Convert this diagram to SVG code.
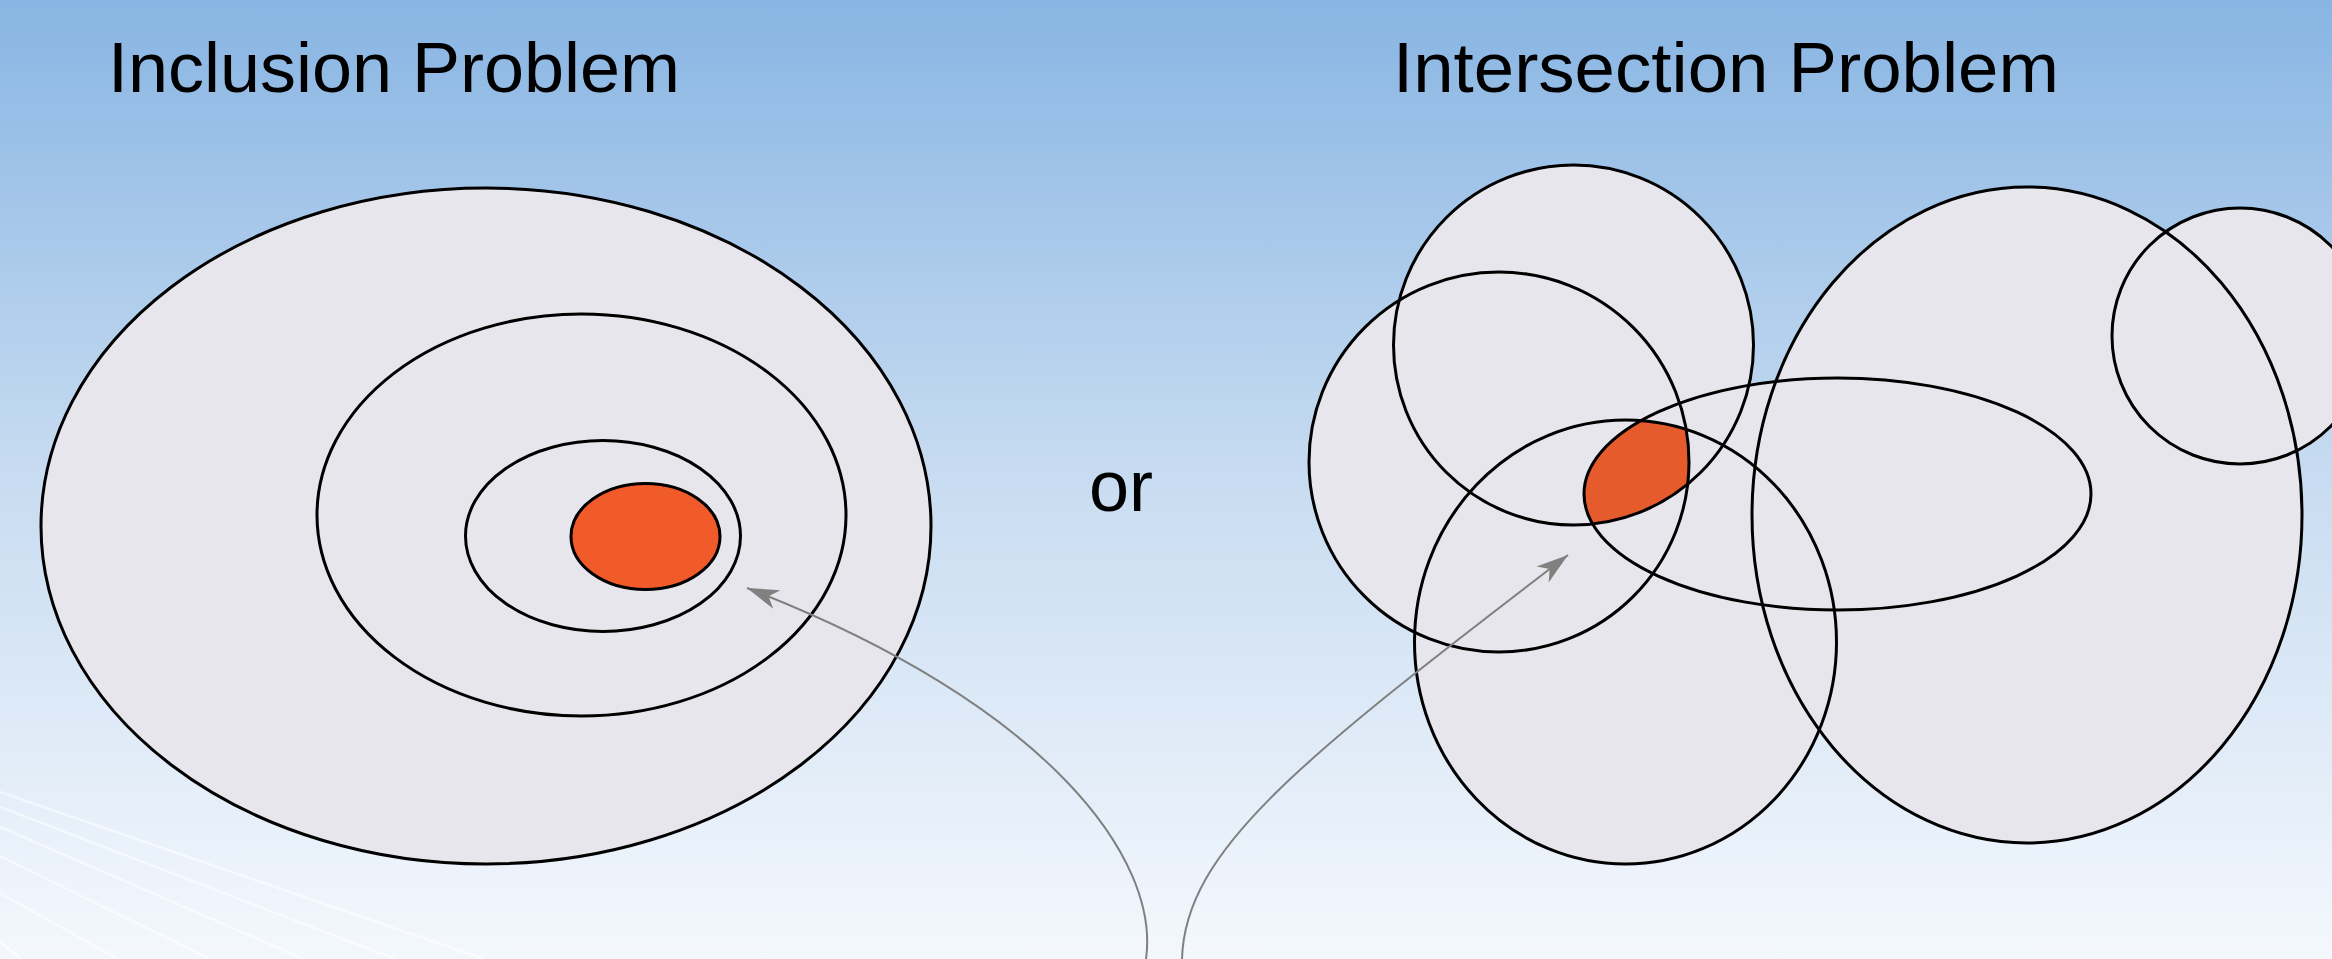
<svg xmlns="http://www.w3.org/2000/svg" xmlns:xlink="http://www.w3.org/1999/xlink" width="2332" height="959" viewBox="0 0 2332 959">
<style>
.title{font-family:"Liberation Sans",Arial,sans-serif;font-size:70px;fill:#000}
.or{font-family:"Liberation Sans",Arial,sans-serif;font-size:72px;fill:#000}
.set{fill:#E6E6EC;stroke:#000;stroke-width:3}
.fillonly{fill:#E6E6EC;stroke:none}
.outline{fill:none;stroke:#000;stroke-width:3}
.hit{fill:#F15A29;stroke:#000;stroke-width:3}
.hit2{fill:#E55B2B;stroke:none}
.conn{fill:none;stroke:#808080;stroke-width:2}
.deco{stroke:#FFFFFF;stroke-opacity:0.55;stroke-width:2.5}
</style>
<defs>
<linearGradient id="bg" x1="0" y1="0" x2="0" y2="1">
<stop offset="0" stop-color="#88B5E3"/>
<stop offset="0.5" stop-color="#C8DCF1"/>
<stop offset="1" stop-color="#F4F8FD"/>
</linearGradient>
<marker id="arr" viewBox="0 0 32 22" refX="32" refY="11" markerWidth="32" markerHeight="22" markerUnits="userSpaceOnUse" orient="auto">
<path d="M0,1 L32,11 L0,21 L9,11 Z" fill="#808080"/>
</marker>
<ellipse id="eA" cx="1573.5" cy="345" rx="180" ry="180"/>
<ellipse id="eB" cx="1499" cy="462" rx="190" ry="190"/>
<ellipse id="eC" cx="1625.5" cy="642" rx="211" ry="222"/>
<ellipse id="eD" cx="1837.5" cy="494" rx="253.5" ry="116"/>
<ellipse id="eE" cx="2027" cy="515" rx="275" ry="328"/>
<ellipse id="eF" cx="2240" cy="336" rx="128" ry="128"/>
<clipPath id="cA"><use xlink:href="#eA"/></clipPath>
<clipPath id="cB"><use xlink:href="#eB"/></clipPath>
<clipPath id="cC"><use xlink:href="#eC"/></clipPath>
</defs>
<rect x="0" y="0" width="2332" height="959" fill="url(#bg)"/>
<g id="decoration">
<line class="deco" x1="0" y1="792" x2="484" y2="959"/>
<line class="deco" x1="0" y1="807" x2="395" y2="959"/>
<line class="deco" x1="0" y1="827" x2="304" y2="959"/>
<line class="deco" x1="0" y1="856" x2="210" y2="959"/>
<line class="deco" x1="0" y1="893" x2="118" y2="959"/>
<line class="deco" x1="0" y1="942" x2="22" y2="959"/>
</g>
<text class="title" x="108" y="92" textLength="572" lengthAdjust="spacingAndGlyphs">Inclusion Problem</text>
<text class="title" x="1393" y="92" textLength="666" lengthAdjust="spacingAndGlyphs">Intersection Problem</text>
<text class="or" x="1089" y="511">or</text>
<g id="inclusion">
<g id="inc-outer"><ellipse class="set" cx="486" cy="526" rx="445" ry="338"/></g>
<g id="inc-second"><ellipse class="set" cx="581.5" cy="515" rx="264.5" ry="201"/></g>
<g id="inc-third"><ellipse class="set" cx="603" cy="536" rx="137.5" ry="95.5"/></g>
<g id="inc-target"><ellipse class="hit" cx="645.5" cy="536.5" rx="74.5" ry="53"/></g>
</g>
<g id="intersection">
<g id="set-A"><use xlink:href="#eA" class="fillonly"/></g>
<g id="set-B"><use xlink:href="#eB" class="fillonly"/></g>
<g id="set-C"><use xlink:href="#eC" class="fillonly"/></g>
<g id="set-D"><use xlink:href="#eD" class="fillonly"/></g>
<g id="set-E"><use xlink:href="#eE" class="fillonly"/></g>
<g id="set-F"><use xlink:href="#eF" class="fillonly"/></g>
<g id="int-target" clip-path="url(#cA)"><g clip-path="url(#cB)"><g clip-path="url(#cC)"><use xlink:href="#eD" class="hit2"/></g></g></g>
<g id="outlines">
<use xlink:href="#eA" class="outline"/>
<use xlink:href="#eB" class="outline"/>
<use xlink:href="#eC" class="outline"/>
<use xlink:href="#eD" class="outline"/>
<use xlink:href="#eE" class="outline"/>
<use xlink:href="#eF" class="outline"/>
</g>
</g>
<g id="connectors">
<path class="conn" d="M1146,959 C1160,860 1050,705 747,588" marker-end="url(#arr)"/>
<path class="conn" d="M1182,959 C1185,850 1300,760 1568,555" marker-end="url(#arr)"/>
</g>
</svg>
